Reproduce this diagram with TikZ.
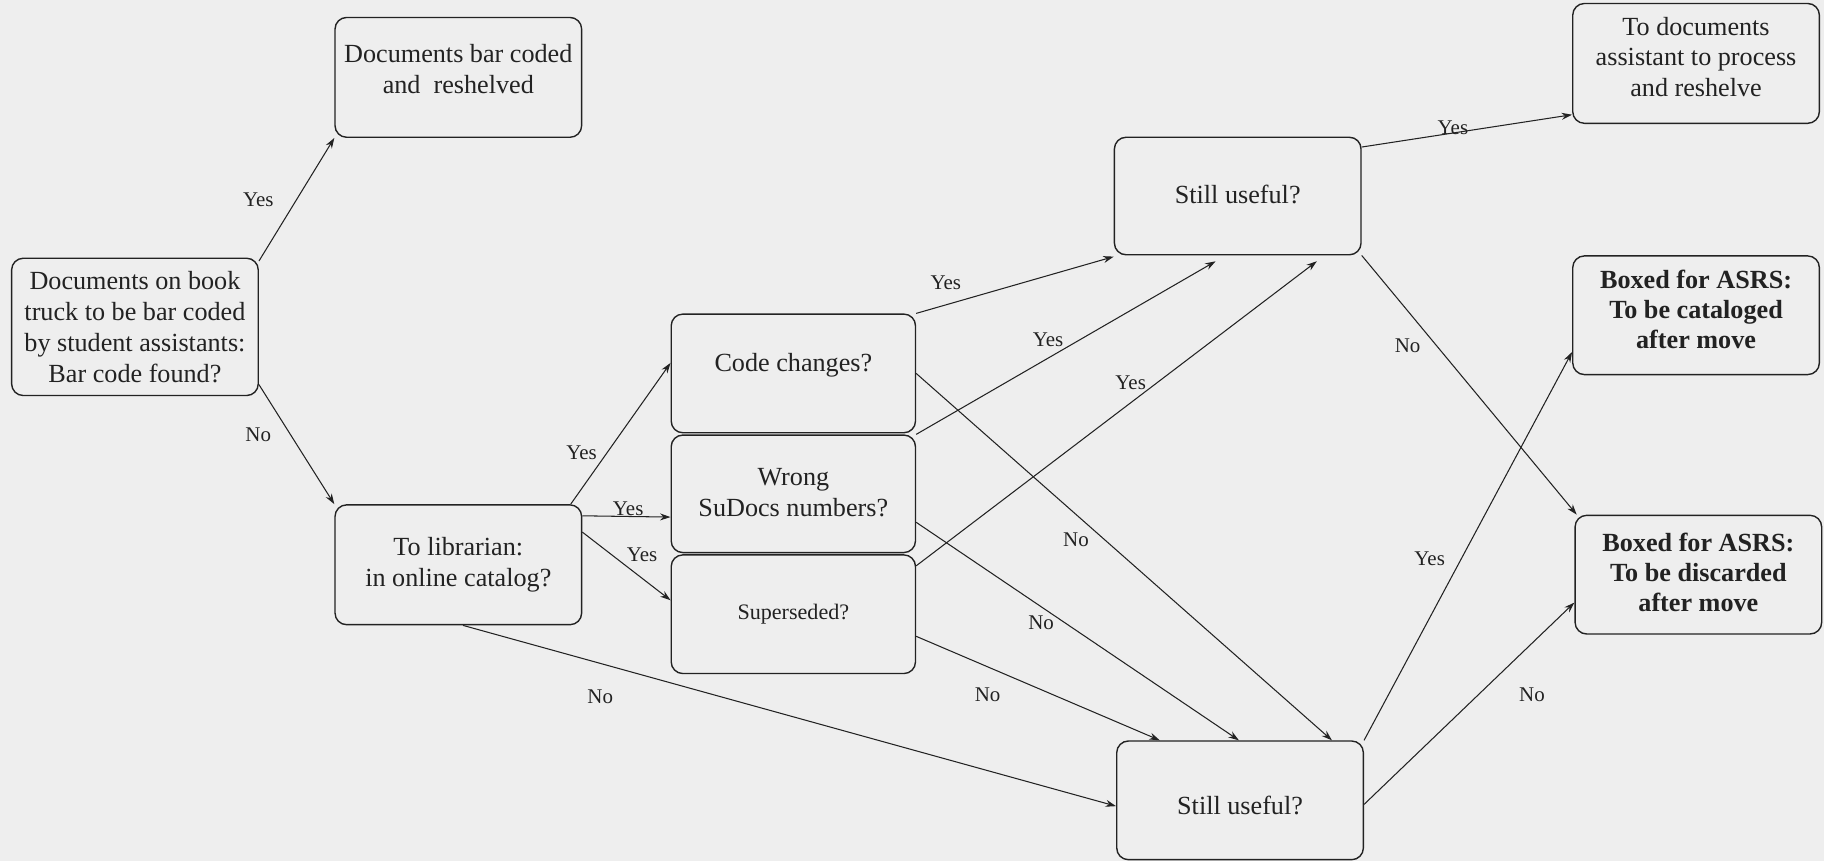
\documentclass[tikz,border=0pt]{standalone}
\usepackage{fontspec}
\setmainfont{Liberation Serif}
\usetikzlibrary{arrows.meta,calc}
\definecolor{bg}{HTML}{EEEEEE}
\definecolor{ink}{HTML}{222222}
\begin{document}
\begin{tikzpicture}[x=1pt,y=-1pt,
  box/.style={draw=ink, line width=1.2pt, rounded corners=10pt, fill=bg,
    inner sep=0pt, minimum width=212pt, minimum height=102pt},
  txt/.style={align=center, inner sep=0pt, text=ink, font=\fontsize{22.5}{26.5}\selectfont},
  btxt/.style={txt, font=\fontsize{22.5}{25.5}\selectfont\bfseries},
  arr/.style={-{Stealth[length=9pt,width=6pt]}, line width=0.9pt, draw=ink},
  lbl/.style={font=\fontsize{18}{20}\selectfont, inner sep=1pt, text=ink}]
\fill[bg] (0,0) rectangle (1568,740);
\useasboundingbox (0,0) rectangle (1568,740);

% boxes
\node[box, minimum height=118pt] (A) at (116,281) {};
\node[box, minimum height=103pt] (B) at (394,66.5) {};
\node[box, minimum height=103pt] (C) at (394,485.5) {};
\node[box, minimum width=210pt] (D) at (682,321) {};
\node[box, minimum width=210pt, minimum height=101pt] (E) at (682,424.5) {};
\node[box, minimum width=210pt] (F) at (682,528) {};
\node[box, minimum height=101pt] (G) at (1064,168.5) {};
\node[box, minimum height=102pt] (H) at (1066,688) {};
\node[box, minimum height=103pt] (I) at (1458,54.5) {};
\node[box] (J) at (1458,271) {};
\node[box] (K) at (1460,494) {};

% box texts
\node[txt] (At) at ($(A)+(0,0)$) {Documents on book\\truck to be bar coded\\by student assistants:\\Bar code found?};
\node[txt] (Bt) at ($(B)+(0,-7.5)$) {Documents bar coded\\and\ \ reshelved};
\node[txt] (Ct) at ($(C)+(0,0)$) {To librarian:\\in online catalog?};
\node[txt] (Dt) at ($(D)+(0,-7)$) {Code changes?};
\node[txt] (Et) at ($(E)+(0,-1)$) {Wrong\\SuDocs numbers?};
\node[txt, font=\fontsize{19}{22}\selectfont] (Ft) at ($(F)+(0,0)$) {Superseded?};
\node[txt] (Gt) at ($(G)+(0,-1.5)$) {Still useful?};
\node[txt] (Ht) at ($(H)+(0,4)$) {Still useful?};
\node[txt] (It) at ($(I)+(0,-5.5)$) {To documents\\assistant to process\\and reshelve};
\node[btxt] (Jt) at ($(J)+(0,-5)$) {Boxed for ASRS:\\To be cataloged\\after move};
\node[btxt] (Kt) at ($(K)+(0,-2)$) {Boxed for ASRS:\\To be discarded\\after move};

% connectors
\draw[arr] ($(A.north east)+(0,3)$) -- (B.south west);
\draw[arr] ($(A.south east)+(0,-10)$) -- (C.north west);
\draw[arr] ($(C.north east)+(-10,0)$) -- ($(D.west)+(0,-9)$);
\draw[arr] ($(C.north east)+(0,10)$) -- ($(E.west)+(0,20)$);
\draw[arr] ($(C.north east)+(0,24)$) -- ($(F.west)+(0,-12)$);
\draw[arr] ($(C.south)+(4,0)$) -- ($(H.west)+(0,5)$);
\draw[arr] (D.north east) -- ($(G.south west)+(0,1)$);
\draw[arr] (E.north east) -- ($(G.south)+(-19,5)$);
\draw[arr] ($(F.north east)+(0,10)$) -- ($(G.south)+(68,5)$);
\draw[arr] (D.east) -- ($(H.north)+(79,0)$);
\draw[arr] ($(E.east)+(0,24.5)$) -- ($(H.north)+(-1,0)$);
\draw[arr] ($(F.east)+(0,19)$) -- ($(H.north)+(-69,0)$);
\draw[arr] ($(G.north east)+(0,9)$) -- ($(I.south west)+(0,-8)$);
\draw[arr] (G.south east) -- ($(K.north west)+(2,0)$);
\draw[arr] (H.north east) -- ($(J.south west)+(0,-20)$);
\draw[arr] ($(H.east)+(0,3.5)$) -- ($(K.west)+(0,24)$);

% labels
\node[lbl] (l1) at (222,172) {Yes};
\node[lbl] (l2) at (222,374) {No};
\node[lbl] (l3) at (500,389) {Yes};
\node[lbl] (l4) at (540,437) {Yes};
\node[lbl] (l5) at (552,477) {Yes};
\node[lbl] (l6) at (516,599) {No};
\node[lbl] (l7) at (813,243) {Yes};
\node[lbl] (l8) at (901,292) {Yes};
\node[lbl] (l9) at (972,329) {Yes};
\node[lbl] (l10) at (925,464) {No};
\node[lbl] (l11) at (895,535) {No};
\node[lbl] (l12) at (849,597) {No};
\node[lbl] (l13) at (1249,110) {Yes};
\node[lbl] (l14) at (1210,297) {No};
\node[lbl] (l15) at (1229,480) {Yes};
\node[lbl] (l16) at (1317,597) {No};
\end{tikzpicture}
\end{document}
